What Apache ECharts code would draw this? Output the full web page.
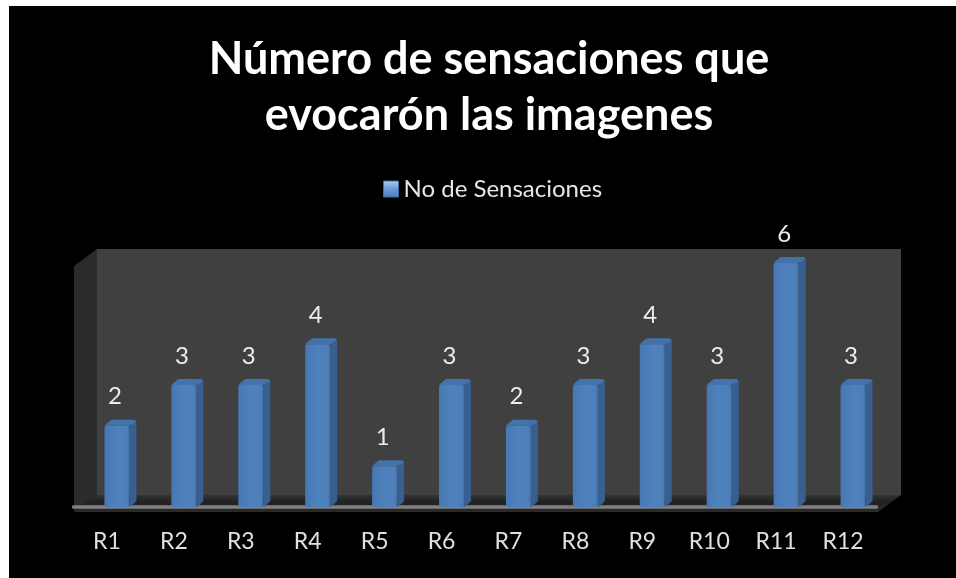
<!DOCTYPE html>
<html><head><meta charset="utf-8">
<style>html,body{margin:0;padding:0;background:#fff}#c{width:956px;height:578px}</style>
<script src="https://cdn.jsdelivr.net/npm/echarts@6/dist/echarts.min.js"></script>
</head><body><div id="c"></div>
<script>
const categories = ['R1','R2','R3','R4','R5','R6','R7','R8','R9','R10','R11','R12'];
const sensaciones = [2,3,3,4,1,3,2,3,4,3,6,3];
const seriesName = 'No de Sensaciones';
const titleText = 'Número de sensaciones que\nevocarón las imagenes';
const FONT = 'Lato';

function renderBar(params, api){
  const i = api.value(0), v = api.value(1);
  const top = api.coord([i, v]), base = api.coord([i, 0]);
  const w = 25, sx = 7, sy = 6, shift = 10;
  const x0 = top[0] + shift - w/2, x1 = x0 + w, y0 = top[1], y1 = base[1];
  return {type:'group', children:[
    {type:'polygon', shape:{points:[[x1,y0],[x1+sx-1,y0-sy+1],[x1+sx,y0-sy+3],[x1+sx,y1-sy],[x1+2,y1-1],[x1,y1]]}, style:{fill:'#375f90'}},
    {type:'polygon', shape:{points:[[x0,y0],[x0+2,y0-2],[x0+sx,y0-sy],[x1+sx-2,y0-sy],[x1+sx,y0-sy+2],[x1,y0]]}, style:{fill:'#4473ab'}},
    {type:'rect', shape:{x:x0,y:y0,width:w,height:y1-y0,r:2},
      style:{fill:{type:'linear',x:0,y:0,x2:1,y2:0,colorStops:[{offset:0,color:'#4778b4'},{offset:0.5,color:'#4f81bd'},{offset:0.9,color:'#4d7fbb'},{offset:1,color:'#44719f'}]}}},
    {type:'text', style:{text:String(v), x:(x0+x1)/2-2, y:y0-29, align:'center', verticalAlign:'middle', fill:'#ececec', font:'24px '+FONT}}
  ]};
}

const chart = echarts.init(document.getElementById('c'), null, {renderer:'canvas'});
chart.setOption({
  animation:false,
  backgroundColor:'#fff',
  title:{text:titleText,left:484,top:26,textAlign:'center',
    textStyle:{color:'#fff',fontFamily:FONT,fontWeight:'bold',fontSize:45,lineHeight:56}},
  legend:{show:true,left:378,top:172,itemWidth:15,itemHeight:16,itemGap:6,icon:'rect',
    data:[{name:seriesName,itemStyle:{color:{type:'linear',x:0,y:0,x2:0,y2:1,colorStops:[{offset:0,color:'#b4d0ef'},{offset:0.45,color:'#6f9fd6'},{offset:1,color:'#4a7cb8'}]},borderColor:'#3f6ea6',borderWidth:1}}],
    textStyle:{color:'#e6e6e6',fontFamily:FONT,fontSize:24,padding:[0,0,0,0]}},
  grid:{left:73.5,top:263,width:803,height:244},
  xAxis:{type:'category',data:categories,offset:5,
    axisLine:{show:true,lineStyle:{color:'#808080',width:3.5}},axisTick:{show:false},
    axisLabel:{color:'#e0e0e0',fontFamily:FONT,fontSize:23,margin:18,interval:0},splitLine:{show:false}},
  yAxis:{type:'value',min:0,max:6,interval:1,show:false},
  graphic:[
    {type:'rect',z:-10,shape:{x:9,y:6,width:947,height:572},style:{fill:'#000'}},
    {type:'polygon',z:-9,shape:{points:[[97,249],[901,249],[901,495],[97,495]]},style:{fill:'#404040'}},
    {type:'polygon',z:-9,shape:{points:[[74,266],[97,249],[97,495],[74,512]]},style:{fill:'#2b2b2b'}},
    {type:'polygon',z:-9,shape:{points:[[74,512],[97,495],[901,495],[878,512]]},
      style:{fill:{type:'linear',x:0,y:0,x2:0,y2:1,colorStops:[{offset:0,color:'#343434'},{offset:0.4,color:'#222'},{offset:1,color:'#2a2a2a'}]}}}
  ],
  series:[{type:'custom',name:seriesName,renderItem:renderBar,
    encode:{x:0,y:1},itemStyle:{color:'#4f81bd'},
    data:sensaciones.map((v,i)=>[i,v]),z:5}]
});
</script></body></html>
